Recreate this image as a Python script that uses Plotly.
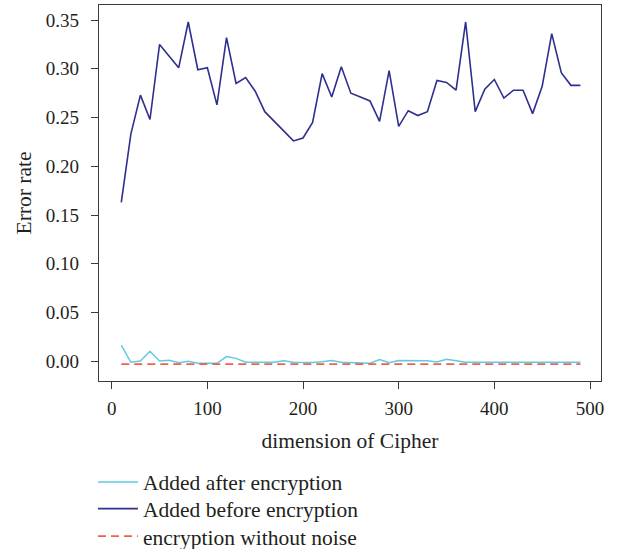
import plotly.graph_objects as go

dims = list(range(10, 500, 10))

before_enc = [0.163, 0.233, 0.273, 0.248, 0.325, 0.313, 0.301, 0.348, 0.299, 0.301,
              0.263, 0.332, 0.285, 0.291, 0.277, 0.256, 0.246, 0.236, 0.226, 0.229,
              0.245, 0.295, 0.271, 0.302, 0.275, 0.271, 0.267, 0.246, 0.298, 0.241,
              0.257, 0.252, 0.256, 0.288, 0.286, 0.278, 0.348, 0.256, 0.279, 0.289,
              0.270, 0.278, 0.278, 0.254, 0.282, 0.336, 0.296, 0.283, 0.283]

after_enc = [0.0165, -0.001, 0.0003, 0.0103, 0.0003, 0.001, -0.0014, 0.0, -0.002, -0.002,
             -0.002, 0.0048, 0.003, -0.001, -0.001, -0.001, -0.001, 0.0006, -0.001, -0.0012,
             -0.0012, -0.0004, 0.0009, -0.001, -0.0015, -0.0018, -0.002, 0.0017, -0.0015, 0.0009,
             0.0008, 0.0007, 0.0006, -0.0007, 0.002, 0.0005, -0.001, -0.001, -0.001, -0.001,
             -0.001, -0.001, -0.001, -0.001, -0.001, -0.001, -0.001, -0.001, -0.001]

no_noise = [-0.0028] * len(dims)

x_ticks = [0, 100, 200, 300, 400, 500]
y_ticks = [0, 0.05, 0.1, 0.15, 0.2, 0.25, 0.3, 0.35]

FONT = "Liberation Serif"
TXT = "#231f20"

fig = go.Figure()
fig.add_trace(go.Scatter(x=dims, y=after_enc, mode="lines", name="Added after encryption",
                         line=dict(color="#5ccbe3", width=1.5), legend="legend"))
fig.add_trace(go.Scatter(x=dims, y=before_enc, mode="lines", name="Added before encryption",
                         line=dict(color="#2e2f8f", width=1.6), legend="legend2"))
fig.add_trace(go.Scatter(x=dims, y=no_noise, mode="lines", name="encryption without noise",
                         line=dict(color="#f0604d", width=1.8, dash="8px,5px"), legend="legend3"))

axis_common = dict(showline=True, linecolor="#3a3a3a", linewidth=1.3, mirror=True,
                   ticks="outside", ticklen=7, tickwidth=1.3, tickcolor="#3a3a3a", showgrid=False,
                   zeroline=False, tickfont=dict(family=FONT, size=19, color=TXT))

leg_common = dict(x=-0.012, xanchor="left", yanchor="middle", orientation="v",
                  font=dict(family=FONT, size=21.5, color=TXT), bgcolor="rgba(0,0,0,0)",
                  itemwidth=40)

fig.update_layout(
    width=624, height=549,
    margin=dict(l=99, r=23, t=5, b=168, autoexpand=False),
    paper_bgcolor="white", plot_bgcolor="white",
    font=dict(family=FONT, size=19, color=TXT),
    xaxis=dict(range=[-13.3, 511.5], tickvals=x_ticks, ticklabelstandoff=3,
               title=dict(text="dimension of Cipher", font=dict(family=FONT, size=21.5), standoff=14),
               **axis_common),
    yaxis=dict(range=[-0.0202, 0.3654], tickvals=y_ticks, tickformat=".2f",
               ticklabelstandoff=8,
               title=dict(text="Error rate", font=dict(family=FONT, size=21.5), standoff=8),
               **axis_common),
    showlegend=True,
    legend=dict(y=-0.2688, **leg_common),
    legend2=dict(y=-0.3396, **leg_common),
    legend3=dict(y=-0.4126, **leg_common),
)

fig.write_html("out.html", config={"displayModeBar": False},
               post_script="document.body.style.margin='0';document.body.style.padding='0';")
